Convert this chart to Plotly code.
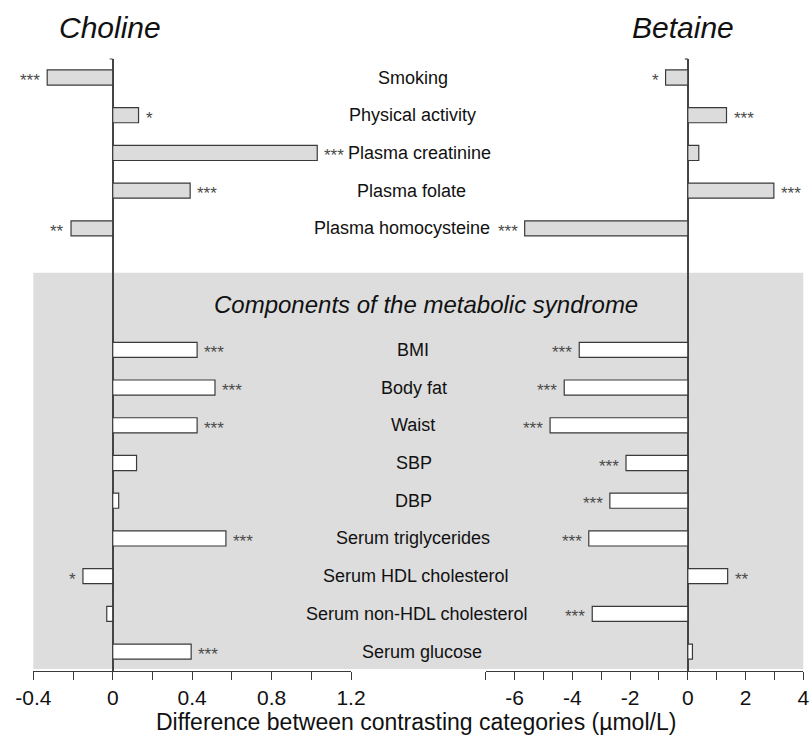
import plotly.graph_objects as go

# ---------------- data ----------------
categories_top = ["Smoking", "Physical activity", "Plasma creatinine",
                  "Plasma folate", "Plasma homocysteine"]
categories_bottom = ["BMI", "Body fat", "Waist", "SBP", "DBP",
                     "Serum triglycerides", "Serum HDL cholesterol",
                     "Serum non-HDL cholesterol", "Serum glucose"]

choline_top = [-0.33, 0.13, 1.03, 0.39, -0.21]
choline_bottom = [0.425, 0.515, 0.425, 0.12, 0.03, 0.57, -0.15, -0.03, 0.395]
betaine_top = [-0.77, 1.34, 0.38, 2.98, -5.65]
betaine_bottom = [-3.76, -4.28, -4.77, -2.14, -2.70, -3.43, 1.38, -3.31, 0.16]

choline_sig_top = ["***", "*", "***", "***", "**"]
choline_sig_bottom = ["***", "***", "***", "", "", "***", "*", "", "***"]
betaine_sig_top = ["*", "***", "", "***", "***"]
betaine_sig_bottom = ["***", "***", "***", "***", "***", "***", "**", "***", ""]

left_ticks = [-0.4, -0.2, 0, 0.2, 0.4, 0.6, 0.8, 1.0, 1.2]
left_ticktext = ["-0.4", "", "0", "", "0.4", "", "0.8", "", "1.2"]
right_ticks = [-7, -6, -5, -4, -3, -2, -1, 0, 1, 2, 3, 4]
right_ticktext = ["", "-6", "", "-4", "", "-2", "", "0", "", "2", "", "4"]

title_left = "Choline"
title_right = "Betaine"
group_heading = "Components of the metabolic syndrome"
axis_title = "Difference between contrasting categories (µmol/L)"

# ---------------- layout helpers ----------------
W, H = 810, 740
TOP, BOTTOM = 59, 671
pos_top = [0, 1, 2, 3, 4]
pos_bottom = [7.22 + i for i in range(9)]
heading_pos = 6.03
row_px = 37.72
y_top_val = -(77.5 - TOP) / row_px
y_bot_val = (BOTTOM - 77.5) / row_px

label_px_top = [413, 412.5, 419.7, 411.3, 402]
label_px_bottom = [412.5, 413.5, 413, 413.5, 413, 413, 415, 416.5, 422]

FONT = "Liberation Sans, Arial, sans-serif"
LINE = "#3a3a3a"

categories = categories_top + categories_bottom
positions = pos_top + pos_bottom
choline = choline_top + choline_bottom
betaine = betaine_top + betaine_bottom
ch_sig = choline_sig_top + choline_sig_bottom
be_sig = betaine_sig_top + betaine_sig_bottom
colors = ["#dcdcdc"] * len(categories_top) + ["#ffffff"] * len(categories_bottom)

fig = go.Figure()
fig.add_trace(go.Bar(
    x=choline, y=positions, orientation="h", width=0.4,
    marker=dict(color=colors, line=dict(color=LINE, width=1.2)),
    xaxis="x", yaxis="y", hoverinfo="skip", showlegend=False))
fig.add_trace(go.Bar(
    x=betaine, y=positions, orientation="h", width=0.4,
    marker=dict(color=colors, line=dict(color=LINE, width=1.2)),
    xaxis="x2", yaxis="y", hoverinfo="skip", showlegend=False))

ann = []
# category labels
for name, p, px in zip(categories, positions, label_px_top + label_px_bottom):
    ann.append(dict(text=name, x=px / W, xref="paper", y=p, yref="y",
                    xanchor="center", yanchor="middle", showarrow=False,
                    font=dict(family=FONT, size=18, color="#111")))
# heading
ann.append(dict(text="<i>" + group_heading + "</i>", x=426 / W, xref="paper",
                y=heading_pos, yref="y", xanchor="center", yanchor="middle",
                showarrow=False, font=dict(family=FONT, size=24, color="#111")))
# titles
for t, px in [(title_left, 109.5), (title_right, 683.3)]:
    ann.append(dict(text="<i>" + t + "</i>", x=px / W, xref="paper",
                    y=1 + (TOP - 28) / (BOTTOM - TOP), yref="paper",
                    xanchor="center", yanchor="middle", showarrow=False,
                    font=dict(family=FONT, size=30, color="#111")))
# significance stars
for vals, sigs, xr in [(choline, ch_sig, "x"), (betaine, be_sig, "x2")]:
    for v, s, p in zip(vals, sigs, positions):
        if not s:
            continue
        pos = v >= 0
        ann.append(dict(text=s, x=v, xref=xr, y=p, yref="y",
                        xanchor="left" if pos else "right",
                        xshift=5 if pos else -5, yshift=-3,
                        yanchor="middle", showarrow=False,
                        font=dict(family=FONT, size=17, color="#4a4a4a")))
# axis title
ann.append(dict(text=axis_title, x=416 / W, xref="paper",
                y=-(722 - BOTTOM) / (BOTTOM - TOP), yref="paper",
                yanchor="middle", xanchor="center", showarrow=False,
                font=dict(family=FONT, size=23, color="#111")))

shapes = [dict(type="rect", xref="paper", yref="y",
               x0=33.3 / W, x1=803.3 / W,
               y0=(272.7 - 77.5) / row_px, y1=(669 - 77.5) / row_px,
               fillcolor="#dddddd", line=dict(width=0), layer="below")]
# small end ticks at the top of the zero lines
for xr in ["x", "x2"]:
    shapes.append(dict(type="line", xref=xr, yref="paper",
                       xsizemode="pixel", xanchor=0, x0=-3, x1=0,
                       y0=1, y1=1, line=dict(color="#444", width=1.2)))

axis_common = dict(showgrid=False, zeroline=True, zerolinecolor="#444",
                   zerolinewidth=1.5, showline=True, linecolor=LINE,
                   linewidth=1.2, ticks="outside", ticklen=8,
                   tickcolor=LINE, tickwidth=1.2, automargin=False,
                   tickfont=dict(family=FONT, size=21, color="#111"),
                   fixedrange=True)

fig.update_layout(
    width=W, height=H, autosize=False,
    margin=dict(l=0, r=0, t=TOP, b=H - BOTTOM, autoexpand=False),
    paper_bgcolor="white", plot_bgcolor="rgba(0,0,0,0)",
    xaxis=dict(domain=[33.3 / W, 351 / W], range=[-0.4, 1.2],
               tickmode="array", tickvals=left_ticks, ticktext=left_ticktext,
               anchor="y", **axis_common),
    xaxis2=dict(domain=[485.7 / W, 803.3 / W], range=[-7, 4],
                tickmode="array", tickvals=right_ticks, ticktext=right_ticktext,
                anchor="y", **axis_common),
    yaxis=dict(range=[y_bot_val, y_top_val], visible=False, fixedrange=True),
    annotations=ann, shapes=shapes, barmode="overlay",
)

fig.write_html("out.html",
               config={"displayModeBar": False},
               post_script="document.body.style.margin='0px';"
                           "document.body.style.overflow='hidden';")
